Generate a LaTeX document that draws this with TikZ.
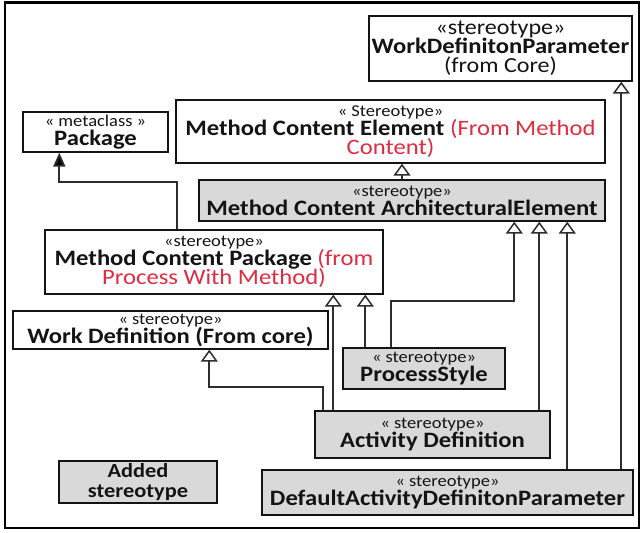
\documentclass[tikz,border=0pt]{standalone}
\usepackage{fontspec}
\setmainfont{Carlito}[FakeStretch=1.12]
\usetikzlibrary{arrows.meta}
\definecolor{boxgray}{RGB}{217,217,217}
\definecolor{redtext}{RGB}{222,44,64}
\definecolor{linec}{RGB}{45,45,45}
\definecolor{ink}{RGB}{20,20,20}
\newcommand{\stereo}[1]{{\fontsize{16.5}{19}\selectfont #1}}
\newcommand{\rd}[1]{{\mdseries\color{redtext}#1}}
\newcommand{\tightlines}{\lineskiplimit=-30pt\relax\lineskip=0pt\relax}
\begin{document}
\begin{tikzpicture}[x=1pt,y=-1pt,
  box/.style={draw=ink, line width=1.4pt, fill=white, inner sep=0pt, align=center,
    text=ink, font=\fontsize{22}{19}\selectfont\tightlines},
  grey/.style={box, fill=boxgray},
  gen/.style={draw=linec, line width=1.8pt,
    -{Triangle[open, width=17pt, length=12pt, line width=1.5pt, fill=white]}},
  assoc/.style={draw=linec, line width=1.8pt,
    -{Triangle[width=12pt, length=14pt, fill=black]}}]
\useasboundingbox (0,0) rectangle (641,533);
% outer frame
\draw[black, line width=2.4pt] (5,2.5) rectangle (639,528);

% classes
\node[box, minimum width=263, minimum height=65] (wdp) at (500.5,48.5)
  {\fontsize{21.5}{19}\selectfont «stereotype»\\\fontsize{22}{19}\selectfont\textbf{WorkDefinitonParameter}\\\fontsize{21.5}{19}\selectfont (from Core)};
\node[box, minimum width=145, minimum height=40] (pkg) at (95.5,132)
  {\stereo{« metaclass »}\\\textbf{Package}};
\node[box, minimum width=429, minimum height=63] (mce) at (390.5,131.5)
  {\stereo{« Stereotype»}\\\textbf{Method Content Element} \rd{(From Method}\\\rd{Content)}};
\node[grey, minimum width=406, minimum height=41] (mcae) at (402,200.5)
  {\stereo{«stereotype»}\\\textbf{Method Content ArchitecturalElement}};
\node[box, minimum width=338, minimum height=64] (mcp) at (214,262)
  {\stereo{«stereotype»}\\\textbf{Method Content Package} \rd{(from}\\\rd{Process With Method)}};
\node[box, minimum width=315, minimum height=38] (wd) at (170.5,330)
  {\stereo{« stereotype»}\\\textbf{Work Definition (From core)}};
\node[grey, minimum width=162, minimum height=41] (ps) at (424,368.5)
  {\stereo{« stereotype»}\\\textbf{ProcessStyle}};
\node[grey, minimum width=235, minimum height=47] (ad) at (432.5,434.5)
  {\stereo{« stereotype»}\\\textbf{Activity Definition}};
\node[grey, minimum width=371, minimum height=45] (dadp) at (447.5,492.5)
  {\stereo{« stereotype»}\\\textbf{DefaultActivityDefinitonParameter}};
\node[grey, minimum width=158, minimum height=42,
  font=\fontsize{20}{20}\selectfont\tightlines] (added) at (138,482)
  {\textbf{Added}\\\textbf{stereotype}};

% generalizations
\draw[gen] (mcae.north) -- (mcae.north |- mce.south);
\draw[gen] ([xshift=49]ps.north west) -- ++(0,-46) -| ([xshift=316]mcae.south west);
\draw[gen] ([xshift=23]ps.north west) coordinate (p1) -- (p1 |- mcp.south);
\draw[gen] ([xshift=19]ad.north west) coordinate (p2) -- (p2 |- mcp.south);
\draw[gen] ([xshift=225]ad.north west) coordinate (p3) -- (p3 |- mcae.south);
\draw[gen] ([xshift=9]ad.north west) -- ++(0,-23) -| ([xshift=197]wd.south west);
\draw[gen] ([xshift=306]dadp.north west) coordinate (p4) -- (p4 |- mcae.south);
\draw[gen] ([xshift=360]dadp.north west) coordinate (p5) -- (p5 |- wdp.south);

% package dependency
\draw[assoc] ([xshift=133]mcp.north west) -- ++(0,-47) -| ([xshift=37]pkg.south west);
\end{tikzpicture}
\end{document}
